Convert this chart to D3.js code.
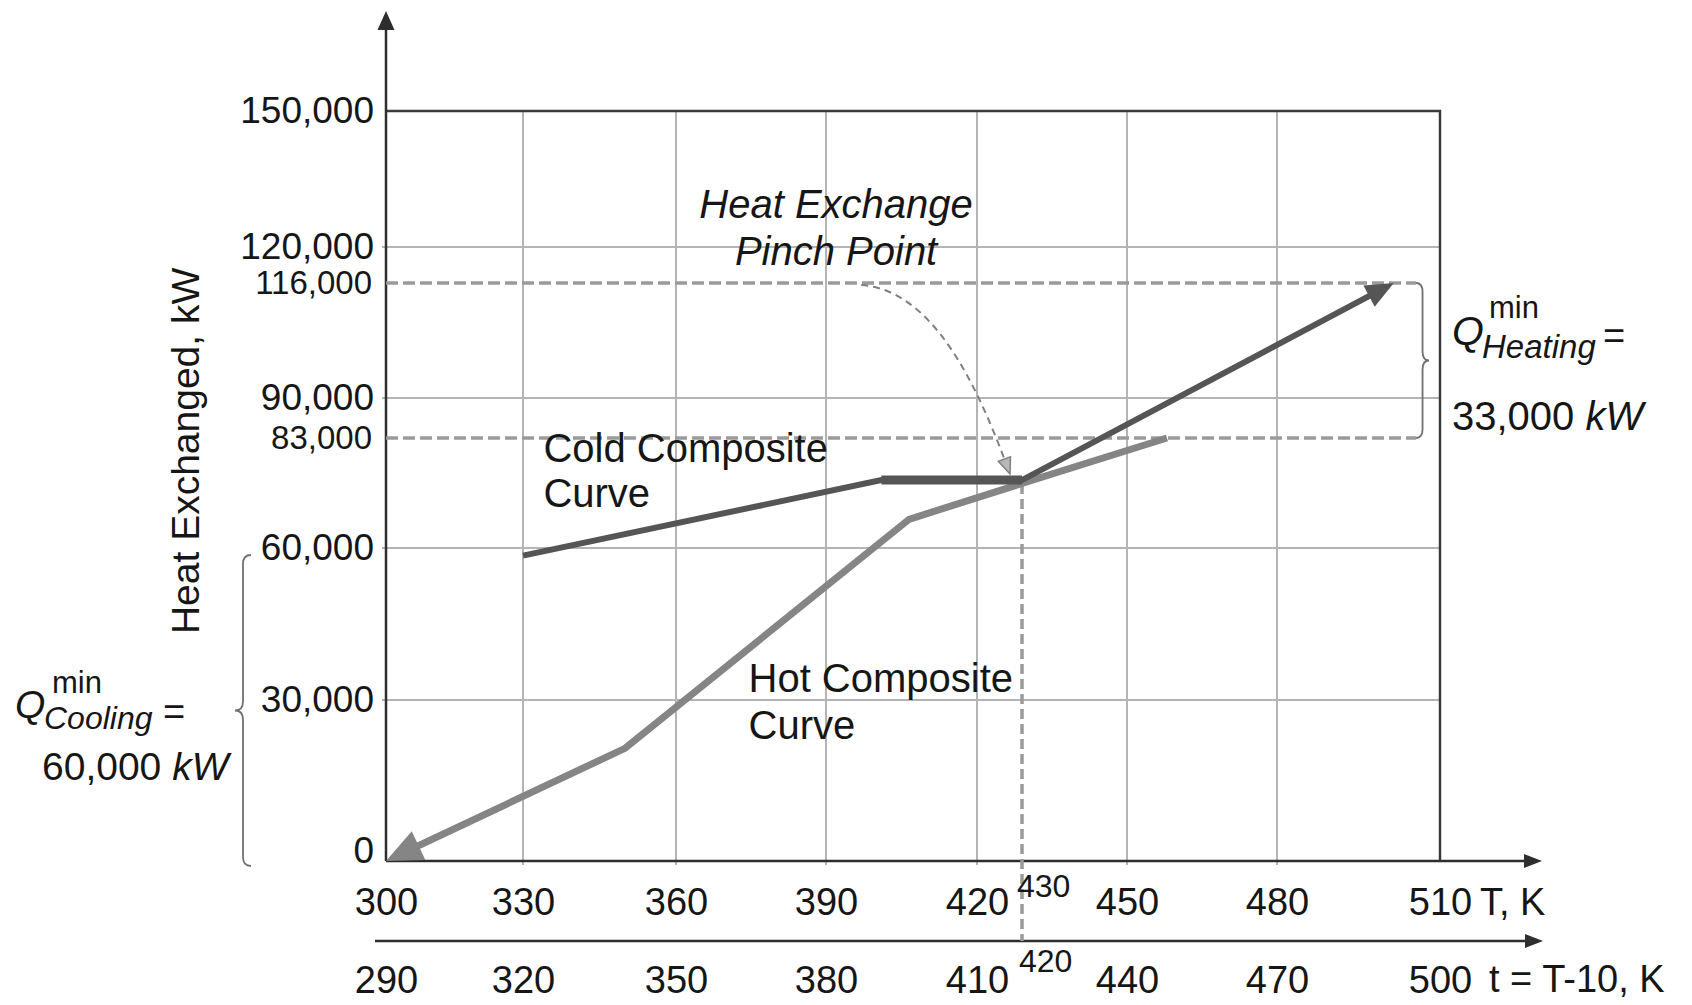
<!DOCTYPE html>
<html>
<head>
<meta charset="utf-8">
<script src="https://cdn.jsdelivr.net/npm/d3@7"></script>
<style>
body { margin: 0; background: #fff; }
svg { display: block; font-family: 'Liberation Sans', Arial, Helvetica, sans-serif; }
text { fill: #161616; }
</style>
</head>
<body>
<svg id="chart" width="1692" height="1005"></svg>
<script>
// ticks
var tempTicks = [300, 330, 360, 390, 420, 450, 480, 510];   // T, K
var heatTicks = [0, 30000, 60000, 90000, 120000, 150000];   // kW
var heatLevels = [83000, 116000];                            // dashed levels

// hot composite curve
var hotT = [300, 350, 406.5, 429, 458];
var hotQ = [0, 21000, 66000, 73500, 83000];

// cold composite curve
var coldT = [330, 401, 429, 501.5];
var coldQ = [58500, 74200, 74200, 116000];

var pinchT = 429;
var pinchLabel = 430;
var qHeating = '33,000';
var qCooling = '60,000';

// the source figure is a sketch, grid spacing is not quite even
var x = d3.scaleLinear()
  .domain(tempTicks)
  .range([386, 523, 676, 826, 977, 1127, 1277, 1440]);
var xt = d3.scaleLinear()
  .domain(tempTicks.map(function(d) { return d - 10; }))
  .range(x.range());
var y = d3.scaleLinear()
  .domain([0, 30000, 60000, 83000, 90000, 116000, 120000, 150000])
  .range([861, 700, 548, 438, 398, 283, 247, 111]);

var lowAxisY = 941;
var arrowX = 1543;
var topY = 11;

var svg = d3.select('#chart');

var head = function(tip, from, len, w) {
  var dx = tip[0] - from[0], dy = tip[1] - from[1];
  var l = Math.sqrt(dx * dx + dy * dy);
  var ux = dx / l, uy = dy / l;
  var bx = tip[0] - ux * len, by = tip[1] - uy * len;
  return {
    d: 'M' + tip[0] + ',' + tip[1] +
       'L' + (bx - uy * w / 2) + ',' + (by + ux * w / 2) +
       'L' + (bx + uy * w / 2) + ',' + (by - ux * w / 2) + 'Z',
    base: [tip[0] - ux * len * 0.7, tip[1] - uy * len * 0.7]
  };
};

// curly brace, arms at x0, tip at x1
var brace = function(x0, x1, y0, y1) {
  var xm = (x0 + x1) / 2, ym = (y0 + y1) / 2, r = 9;
  return 'M' + x0 + ',' + y0 +
    'Q' + xm + ',' + y0 + ' ' + xm + ',' + (y0 + r) +
    'L' + xm + ',' + (ym - r) +
    'Q' + xm + ',' + ym + ' ' + x1 + ',' + ym +
    'Q' + xm + ',' + ym + ' ' + xm + ',' + (ym + r) +
    'L' + xm + ',' + (y1 - r) +
    'Q' + xm + ',' + y1 + ' ' + x0 + ',' + y1;
};

// grid
svg.append('g').selectAll('line')
  .data(tempTicks.slice(1, -1)).enter()
  .append('line')
  .attr('x1', function(d) { return x(d); })
  .attr('x2', function(d) { return x(d); })
  .attr('y1', y(150000))
  .attr('y2', y(0) + 4)
  .attr('stroke', '#b4b4b4')
  .attr('stroke-width', 2);

svg.append('g').selectAll('line')
  .data(heatTicks.slice(1, -1)).enter()
  .append('line')
  .attr('x1', x(300) - 4)
  .attr('x2', x(510))
  .attr('y1', function(d) { return y(d); })
  .attr('y2', function(d) { return y(d); })
  .attr('stroke', '#b4b4b4')
  .attr('stroke-width', 2);

// frame and axes
var axisColor = '#2e2e2e';
svg.append('path')
  .attr('d', 'M' + x(300) + ',' + y(150000) + 'H' + x(510) + 'V' + y(0))
  .attr('fill', 'none')
  .attr('stroke', '#3a3a3a')
  .attr('stroke-width', 2.5);

svg.append('line')
  .attr('x1', x(300)).attr('x2', x(300))
  .attr('y1', y(0)).attr('y2', topY + 10)
  .attr('stroke', axisColor).attr('stroke-width', 2.5);
svg.append('path')
  .attr('d', head([x(300), topY], [x(300), y(0)], 19, 17).d)
  .attr('fill', axisColor);

svg.append('line')
  .attr('x1', x(300)).attr('x2', arrowX - 10)
  .attr('y1', y(0)).attr('y2', y(0))
  .attr('stroke', axisColor).attr('stroke-width', 2.5);
svg.append('path')
  .attr('d', head([arrowX - 1, y(0)], [x(300), y(0)], 18, 14).d)
  .attr('fill', axisColor);

svg.append('line')
  .attr('x1', x(300) - 11).attr('x2', arrowX - 10)
  .attr('y1', lowAxisY).attr('y2', lowAxisY)
  .attr('stroke', axisColor).attr('stroke-width', 2.5);
svg.append('path')
  .attr('d', head([arrowX, lowAxisY], [x(300), lowAxisY], 18, 14).d)
  .attr('fill', axisColor);

// dashed guide lines
var dashColor = '#9a9a9a';
var braceT = 505.6;
svg.append('g').selectAll('line')
  .data(heatLevels).enter()
  .append('line')
  .attr('x1', x(300))
  .attr('x2', x(braceT))
  .attr('y1', function(d) { return y(d); })
  .attr('y2', function(d) { return y(d); })
  .attr('stroke', dashColor)
  .attr('stroke-width', 3.5)
  .attr('stroke-dasharray', '12,5');

svg.append('line')
  .attr('x1', x(pinchT)).attr('x2', x(pinchT))
  .attr('y1', y(coldQ[2]) + 4).attr('y2', lowAxisY)
  .attr('stroke', dashColor)
  .attr('stroke-width', 3.5)
  .attr('stroke-dasharray', '10,5');

// curves
var line = d3.line();

var hotPts = hotT.map(function(t, i) { return [x(t), y(hotQ[i])]; });
var hotHead = head(hotPts[0], hotPts[1], 36, 32);
hotPts[0] = hotHead.base;
svg.append('path')
  .attr('d', line(hotPts))
  .attr('fill', 'none')
  .attr('stroke', '#858585')
  .attr('stroke-width', 7);
svg.append('path')
  .attr('d', hotHead.d)
  .attr('fill', '#858585');

var coldPts = coldT.map(function(t, i) { return [x(t), y(coldQ[i])]; });
var n = coldPts.length;
var coldHead = head(coldPts[n - 1], coldPts[n - 2], 28, 24);
coldPts[n - 1] = coldHead.base;
svg.append('path')
  .attr('d', line(coldPts))
  .attr('fill', 'none')
  .attr('stroke', '#555')
  .attr('stroke-width', 6);
svg.append('path')
  .attr('d', line([coldPts[1], coldPts[2]]))
  .attr('stroke', '#555')
  .attr('stroke-width', 9);
svg.append('path')
  .attr('d', coldHead.d)
  .attr('fill', '#555');

// pinch annotation arrow
var pStart = [x(397), y(116000) + 2];
var pEnd = [x(pinchT) - 12, y(coldQ[2]) - 6];
var c1 = [pStart[0] + 70, pStart[1] + 5];
var c2 = [pEnd[0] - 35, pEnd[1] - 94];
var pHead = head(pEnd, c2, 16, 13);
svg.append('path')
  .attr('d', 'M' + pStart + 'C' + c1 + ' ' + c2 + ' ' + pHead.base)
  .attr('fill', 'none')
  .attr('stroke', '#808080')
  .attr('stroke-width', 2)
  .attr('stroke-dasharray', '7,5');
svg.append('path')
  .attr('d', pHead.d)
  .attr('fill', '#b8b8b8')
  .attr('stroke', '#808080')
  .attr('stroke-width', 1.5);

// braces
svg.append('path')
  .attr('d', brace(x(braceT), x(510) - 11, y(116000), y(83000)))
  .attr('fill', 'none')
  .attr('stroke', '#707070')
  .attr('stroke-width', 1.8);
svg.append('path')
  .attr('d', brace(x(300) - 135, x(300) - 151, y(60000) + 7, y(0) + 5))
  .attr('fill', 'none')
  .attr('stroke', '#707070')
  .attr('stroke-width', 1.8);

// axes labels
var styleAxis = function(g, size) {
  g.attr('font-family', null).attr('font-size', null);
  g.select('.domain').remove();
  g.selectAll('text').attr('font-size', size);
};

var fmt = d3.format(',');
var gy = svg.append('g')
  .attr('transform', 'translate(' + x(300) + ',0)')
  .call(d3.axisLeft(y).tickValues(heatTicks).tickFormat(fmt).tickSize(0).tickPadding(12));
styleAxis(gy, 37);
gy.selectAll('.tick').filter(function(d) { return d === 0; })
  .select('text').attr('y', -10);

var gy2 = svg.append('g')
  .attr('transform', 'translate(' + x(300) + ',0)')
  .call(d3.axisLeft(y).tickValues(heatLevels).tickFormat(fmt).tickSize(0).tickPadding(14));
styleAxis(gy2, 33);

var gx = svg.append('g')
  .attr('transform', 'translate(0,' + y(0) + ')')
  .call(d3.axisBottom(x).tickValues(tempTicks).tickSize(0).tickPadding(27));
styleAxis(gx, 38);

var gxt = svg.append('g')
  .attr('transform', 'translate(0,' + lowAxisY + ')')
  .call(d3.axisBottom(xt).tickValues(tempTicks.map(function(d) { return d - 10; }))
    .tickSize(0).tickPadding(25));
styleAxis(gxt, 38);

var text = function(px, py, str, size, italic, anchor) {
  return svg.append('text')
    .attr('x', px).attr('y', py)
    .attr('font-size', size)
    .attr('font-style', italic ? 'italic' : null)
    .attr('text-anchor', anchor || 'start')
    .text(str);
};

text(x(pinchT) - 5, y(0) + 36, pinchLabel, 32);
text(x(pinchT) - 3, lowAxisY + 31, pinchLabel - 10, 32);
text(x(510) + 40, y(0) + 54, 'T, K', 38);
text(x(510) + 49, lowAxisY + 51, 't = T-10, K', 38);

svg.append('text')
  .attr('transform', 'translate(199,' + y(80300) + ') rotate(-90)')
  .attr('font-size', 39)
  .attr('text-anchor', 'middle')
  .text('Heat Exchanged, kW');

// curve labels
text(x(334), y(78000), 'Cold Composite', 40);
text(x(334), y(78000) + 45, 'Curve', 40);
text(x(374.5), y(31500), 'Hot Composite', 40);
text(x(374.5), y(31500) + 47, 'Curve', 40);
text(x(392), y(126500), 'Heat Exchange', 40, true, 'middle');
text(x(392), y(126500) + 47, 'Pinch Point', 40, true, 'middle');

// Q heating
var qx = x(510) + 12;
text(qx, 345, 'Q', 41, true);
text(qx + 37, 318, 'min', 31);
text(qx + 30, 358, 'Heating', 33, true);
text(qx + 151, 349, '=', 38);
var th = text(qx, 430, qHeating + ' ', 40);
th.append('tspan').attr('font-style', 'italic').text('kW');

// Q cooling
text(15, 718, 'Q', 39, true);
text(52, 693, 'min', 31);
text(44, 729, 'Cooling', 32, true);
text(163, 725, '=', 38);
var tc = text(42, 780, qCooling + ' ', 39);
tc.append('tspan').attr('font-style', 'italic').text('kW');
</script>
</body>
</html>
